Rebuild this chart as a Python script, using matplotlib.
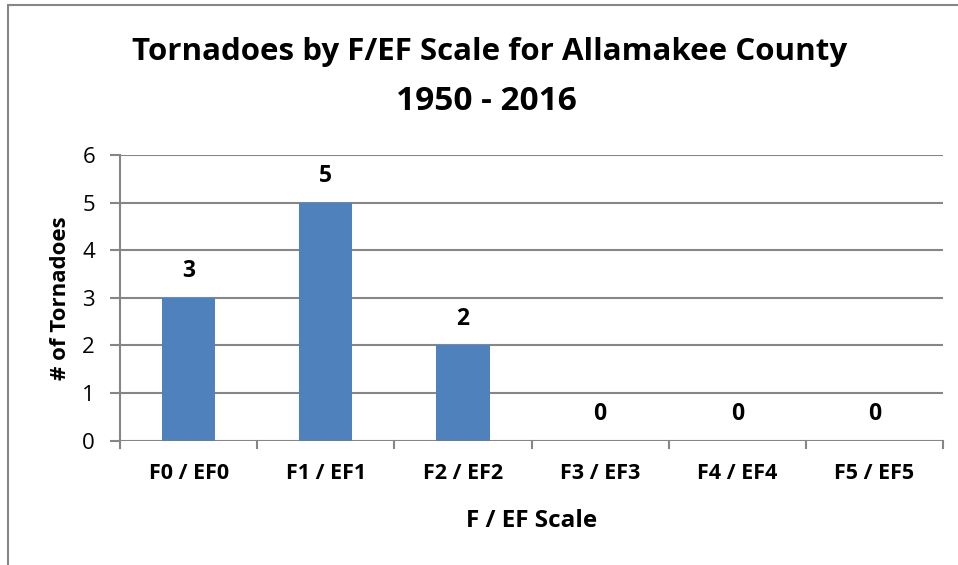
import matplotlib.pyplot as plt
from matplotlib.patches import Rectangle

# data
categories = ['F0 / EF0', 'F1 / EF1', 'F2 / EF2', 'F3 / EF3', 'F4 / EF4', 'F5 / EF5']
counts = [3, 5, 2, 0, 0, 0]
y_ticks = [0, 1, 2, 3, 4, 5, 6]

bar_color = '#4F81BD'
grid_color = '#868686'

plt.rcParams['font.family'] = ['Open Sans', 'DejaVu Sans']

fig = plt.figure(figsize=(9.58, 5.65), dpi=100)

# outer chart border (only left and top visible in the picture)
fig.patches.append(Rectangle((8 / 958, -0.1), 1.2, 1 - 5 / 565 + 0.1,
                             transform=fig.transFigure, fill=False,
                             edgecolor=grid_color, linewidth=1.5))

ax = fig.add_axes([120 / 958, 1 - 440.7 / 565, 823 / 958, 285.7 / 565])

x = range(len(categories))
bars = ax.bar(x, counts, width=0.39, color=bar_color, zorder=3)

ax.set_xlim(-0.5, len(categories) - 0.5)
ax.set_ylim(0, 6)
ax.set_yticks(y_ticks)
ax.set_yticklabels([str(t) for t in y_ticks], fontsize=16)
ax.set_xticks(x)
ax.set_xticklabels(categories, fontsize=15.5, fontweight='bold')

# horizontal gridlines
for t in y_ticks:
    ax.axhline(t, color=grid_color, linewidth=1.5, zorder=1)

for side in ['top', 'right', 'bottom']:
    ax.spines[side].set_visible(False)
ax.spines['left'].set_color(grid_color)
ax.spines['left'].set_linewidth(1.5)

ax.tick_params(axis='y', length=7, width=1.5, color=grid_color, pad=11)
ax.tick_params(axis='x', length=0, pad=16)

# category separator ticks
for b in range(len(categories) + 1):
    ax.plot([b - 0.5, b - 0.5], [0, -0.025 * 6], color=grid_color,
            linewidth=1.5, clip_on=False, zorder=2)

# value labels
for xi, v in zip(x, counts):
    ax.annotate(str(v), (xi, v), xytext=(0, 19), textcoords='offset points',
                ha='center', va='center', fontsize=16.5, fontweight='bold')

ax.set_xlabel('F / EF Scale', fontsize=17.5, fontweight='bold', labelpad=18)
ax.set_ylabel('# of Tornadoes', fontsize=16, fontweight='bold', labelpad=8)

fig.text(490 / 958, 1 - 60 / 565, 'Tornadoes by F/EF Scale for Allamakee County',
         ha='center', va='baseline', fontsize=22.5, fontweight='bold')
fig.text(486 / 958, 1 - 110 / 565, '1950 - 2016',
         ha='center', va='baseline', fontsize=24, fontweight='bold')

fig.savefig('out.png', dpi=100)
